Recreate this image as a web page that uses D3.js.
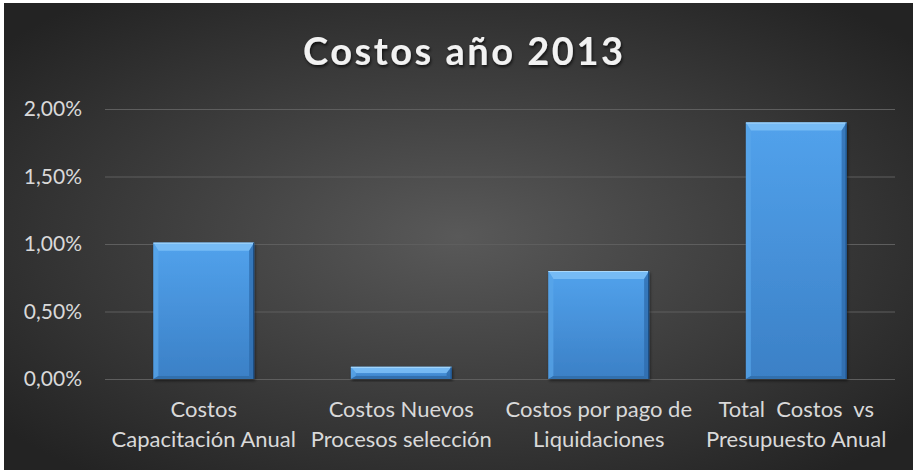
<!DOCTYPE html>
<html>
<head>
<meta charset="utf-8">
<script src="https://cdn.jsdelivr.net/npm/d3@7"></script>
<style>
  html, body { margin: 0; padding: 0; background: #fff; }
  svg { display: block; }
  text { font-family: Lato, "Open Sans", sans-serif; }
</style>
</head>
<body>
<div id="chart"></div>
<script>
// Chart data
const categories = ['cap', 'nuevos', 'liq', 'total'];
const labelLines = [
  ['Costos', 'Capacitación Anual'],
  ['Costos Nuevos', 'Procesos selección'],
  ['Costos por pago de', 'Liquidaciones'],
  ['Total  Costos  vs', 'Presupuesto Anual']
];
const values = [0.0101, 0.0009, 0.0080, 0.0190];
const yTicks = [0, 0.005, 0.01, 0.015, 0.02];
const titleText = 'Costos año 2013';

const width = 913, height = 470;
const margin = {top: 109, right: 18, bottom: 91, left: 105};

const svg = d3.select('#chart').append('svg')
  .attr('width', width)
  .attr('height', height);

const defs = svg.append('defs');

// Background radial gradient
const bg = defs.append('radialGradient')
  .attr('id', 'bg')
  .attr('cx', '50%').attr('cy', '50%').attr('r', '65%');
bg.append('stop').attr('offset', '0%').attr('stop-color', '#595959');
bg.append('stop').attr('offset', '100%').attr('stop-color', '#232323');

// Bar gradient
const barGrad = defs.append('linearGradient')
  .attr('id', 'barGrad')
  .attr('x1', 0).attr('y1', 0).attr('x2', 0).attr('y2', 1);
barGrad.append('stop').attr('offset', '0%').attr('stop-color', '#52a2ec');
barGrad.append('stop').attr('offset', '100%').attr('stop-color', '#3b80c6');

// Title shadow
const shadow = defs.append('filter').attr('id', 'tshadow')
  .attr('x', '-10%').attr('y', '-20%').attr('width', '120%').attr('height', '160%');
shadow.append('feDropShadow')
  .attr('dx', 1).attr('dy', 2).attr('stdDeviation', 1.5)
  .attr('flood-color', '#000').attr('flood-opacity', 0.7);

const barShadow = defs.append('filter').attr('id', 'bshadow')
  .attr('x', '-20%').attr('y', '-20%').attr('width', '140%').attr('height', '140%');
barShadow.append('feDropShadow')
  .attr('dx', 1).attr('dy', 2).attr('stdDeviation', 1.5)
  .attr('flood-color', '#000').attr('flood-opacity', 0.5);

svg.append('rect')
  .attr('x', 4).attr('y', 3)
  .attr('width', width - 4).attr('height', height - 3)
  .attr('fill', 'url(#bg)');

// Title
svg.append('text')
  .attr('x', 463).attr('y', 65)
  .attr('text-anchor', 'middle')
  .attr('fill', '#f2f2f2')
  .attr('font-size', 38)
  .attr('font-weight', 'bold')
  .attr('textLength', 320)
  .attr('lengthAdjust', 'spacing')
  .attr('filter', 'url(#tshadow)')
  .text(titleText);

// Scales
const x = d3.scaleBand()
  .domain(categories)
  .range([margin.left, width - margin.right])
  .paddingInner(0.49)
  .paddingOuter(0.245);
const y = d3.scaleLinear()
  .domain([0, 0.02])
  .range([height - margin.bottom, margin.top]);

// Y axis with gridlines
const fmt = v => (v * 100).toFixed(2).replace('.', ',') + '%';
const yAxis = svg.append('g')
  .attr('transform', `translate(${margin.left},0)`)
  .call(d3.axisLeft(y).tickValues(yTicks).tickFormat(fmt)
    .tickSize(-(width - margin.left - margin.right)).tickPadding(23));
yAxis.select('.domain').remove();
yAxis.selectAll('.tick line')
  .attr('stroke', '#5e5e5e')
  .attr('stroke-width', 1.2);
yAxis.selectAll('.tick text')
  .attr('fill', '#d9d9d9')
  .attr('font-size', 21)
  .attr('font-family', 'Lato, sans-serif');

// Bars with bevel
const bars = svg.append('g').selectAll('g.bar')
  .data(values)
  .join('g')
  .attr('class', 'bar')
  .attr('filter', 'url(#bshadow)');

bars.each(function(d, i) {
  const g = d3.select(this);
  const x0 = x(categories[i]), w = x.bandwidth();
  const y0 = y(d), y1 = y(0), h = y1 - y0;
  const bt = Math.min(8, h / 2), bs = Math.min(5, w / 2), bb = Math.min(3, h / 3);
  g.append('rect')
    .attr('x', x0).attr('y', y0).attr('width', w).attr('height', h)
    .attr('fill', 'url(#barGrad)');
  // top bevel
  g.append('polygon')
    .attr('points', [[x0, y0], [x0 + w, y0], [x0 + w - bs, y0 + bt], [x0 + bs, y0 + bt]].join(' '))
    .attr('fill', '#7cc0f7').attr('opacity', 0.85);
  // left bevel
  g.append('polygon')
    .attr('points', [[x0, y0], [x0 + bs, y0 + bt], [x0 + bs, y1 - bb], [x0, y1]].join(' '))
    .attr('fill', '#5aa6ea').attr('opacity', 0.7);
  // right bevel
  g.append('polygon')
    .attr('points', [[x0 + w, y0], [x0 + w - bs, y0 + bt], [x0 + w - bs, y1 - bb], [x0 + w, y1]].join(' '))
    .attr('fill', '#2c68a8').attr('opacity', 0.7);
  // bottom bevel
  g.append('polygon')
    .attr('points', [[x0, y1], [x0 + bs, y1 - bb], [x0 + w - bs, y1 - bb], [x0 + w, y1]].join(' '))
    .attr('fill', '#2f6aa8').attr('opacity', 0.8);
  // top highlight line
  g.append('line')
    .attr('x1', x0).attr('x2', x0 + w).attr('y1', y0 + 0.5).attr('y2', y0 + 0.5)
    .attr('stroke', '#a9d8fb').attr('stroke-width', 1);
  // right edge
  g.append('line')
    .attr('x1', x0 + w - 0.5).attr('x2', x0 + w - 0.5).attr('y1', y0).attr('y2', y1)
    .attr('stroke', '#1d4c7e').attr('stroke-width', 1);
});

// X axis
const xAxis = svg.append('g')
  .attr('transform', `translate(0,${y(0)})`)
  .call(d3.axisBottom(x).tickSize(0).tickFormat(() => ''));
xAxis.select('.domain')
  .attr('stroke', '#a6a6a6')
  .attr('stroke-width', 2.5)
  .attr('filter', 'url(#bshadow)');
xAxis.selectAll('.tick text').remove();
xAxis.selectAll('.tick')
  .append('text')
  .attr('fill', '#d9d9d9')
  .attr('font-size', 22)
  .attr('text-anchor', 'middle')
  .style('white-space', 'pre')
  .selectAll('tspan')
  .data((d, i) => labelLines[i])
  .join('tspan')
  .attr('x', 0)
  .attr('y', (d, j) => 38 + j * 29.5)
  .text(d => d);
</script>
</body>
</html>
